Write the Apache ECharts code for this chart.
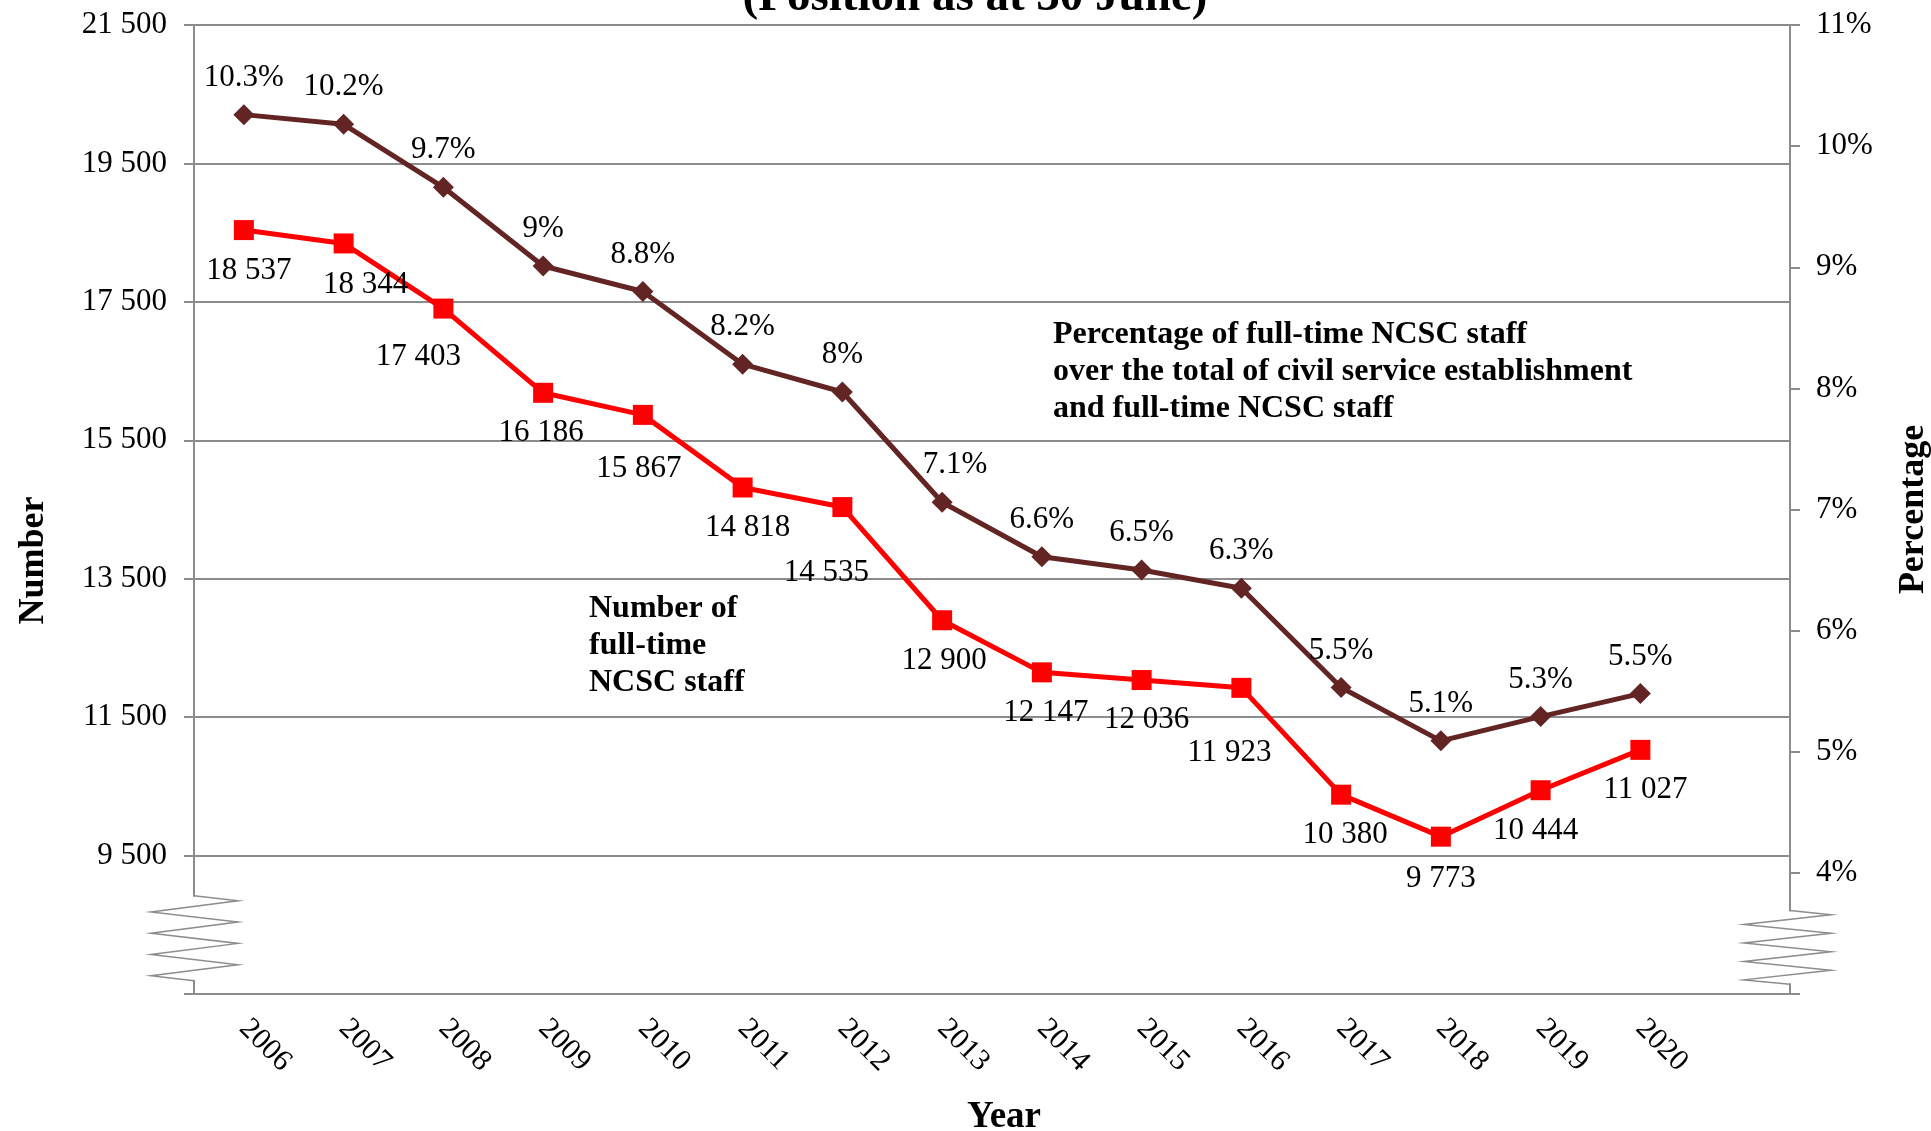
<!DOCTYPE html>
<html lang="en">
  <head>
    <meta charset="UTF-8" />
    <title>Full-time NCSC staff</title>
    <style>
      html, body { margin: 0; padding: 0; background: #fff; }
    </style>
  </head>
  <body>
    <div id="main" style="width: 1931px; height: 1131px"></div>
    <script src="https://cdn.jsdelivr.net/npm/echarts@6/dist/echarts.min.js"></script>
    <script>
      // data
      var years = ["2006", "2007", "2008", "2009", "2010", "2011", "2012", "2013",
        "2014", "2015", "2016", "2017", "2018", "2019", "2020", ""];
      var staffNumber = [18537, 18344, 17403, 16186, 15867, 14818, 14535, 12900,
        12147, 12036, 11923, 10380, 9773, 10444, 11027];
      var staffShare = [10.26, 10.18, 9.66, 9.01, 8.8, 8.2, 7.97, 7.06,
        6.61, 6.5, 6.35, 5.53, 5.09, 5.29, 5.48];
      var numberAxis = { min: 7500, max: 21500, step: 2000 };
      var shareAxis = { min: 3, max: 11, step: 1 };

      var FONT = "Liberation Serif";
      var GRID = "#8c8c8c";
      var GL = 194, GR = 141, GT = 25, GB = 137;

      function spaced(v) {
        return String(v).replace(/\B(?=(\d{3})+(?!\d))/g, " ");
      }
      function pct(v) {
        var s = v.toFixed(1);
        if (s.slice(-2) === ".0") s = s.slice(0, -2);
        return s + "%";
      }

      // hand placed label nudges (like the original)
      var numNudge = { 0: [5, 0], 1: [22, 1], 2: [-25, 8], 3: [-2, 0], 4: [-4, 13],
        5: [5, 0], 6: [-16, 25], 7: [2, 0], 8: [4, 0], 9: [5, -1], 10: [-12, 24],
        11: [4, 0], 12: [0, 2], 13: [-5, 0], 14: [5, -1] };

      var myChart = echarts.init(document.getElementById("main"));

      var labelStyle = { fontFamily: FONT, fontSize: 31, color: "#000" };

      var option = {
        animation: false,
        textStyle: { fontFamily: FONT },
        grid: { left: GL, right: GR, top: GT, bottom: GB, outerBoundsMode: "none", containLabel: false },
        xAxis: {
          type: "category",
          data: years,
          boundaryGap: true,
          name: "Year",
          nameLocation: "middle",
          nameGap: 105,
          nameTextStyle: { fontFamily: FONT, fontSize: 37, fontWeight: "bold", color: "#000", padding: [0, 0, 0, 24] },
          axisLine: { lineStyle: { color: GRID, width: 2 } },
          axisTick: { length: 9, lineStyle: { color: GRID, width: 2 } },
          axisLabel: { rotate: -45, margin: 30, interval: 0, fontFamily: FONT, fontSize: 30, color: "#000" },
          splitLine: { show: false },
        },
        yAxis: [
          {
            type: "value",
            min: numberAxis.min,
            max: numberAxis.max,
            interval: numberAxis.step,
            name: "Number",
            nameLocation: "middle",
            nameRotate: 90,
            nameGap: 142,
            nameTextStyle: { fontFamily: FONT, fontSize: 36, fontWeight: "bold", color: "#000", padding: [0, 102, 0, 0] },
            axisLine: { show: true, lineStyle: { color: GRID, width: 2 } },
            axisTick: { show: true, length: 10, lineStyle: { color: GRID, width: 2 } },
            axisLabel: {
              margin: 27, fontFamily: FONT, fontSize: 31, color: "#000",
              formatter: function (v) { return v === numberAxis.min ? "" : spaced(v); },
            },
            splitLine: { show: true, lineStyle: { color: GRID, width: 2 } },
          },
          {
            type: "value",
            min: shareAxis.min,
            max: shareAxis.max,
            interval: shareAxis.step,
            name: "Percentage",
            nameLocation: "middle",
            nameRotate: 90,
            nameGap: 106,
            nameTextStyle: { fontFamily: FONT, fontSize: 36, fontWeight: "bold", color: "#000" },
            axisLine: { show: true, lineStyle: { color: GRID, width: 2 } },
            axisTick: { show: true, length: 10, lineStyle: { color: GRID, width: 2 } },
            axisLabel: {
              margin: 26, fontFamily: FONT, fontSize: 31, color: "#000",
              formatter: function (v) { return v === shareAxis.min ? "" : v + "%"; },
            },
            splitLine: { show: false },
          },
        ],
        series: [
          {
            name: "Number of full-time NCSC staff",
            type: "line",
            yAxisIndex: 0,
            symbol: "rect",
            symbolSize: 20,
            z: 3,
            lineStyle: { color: "#ff0000", width: 5 },
            itemStyle: { color: "#ff0000" },
            label: {
              show: true, position: "bottom", distance: 15,
              formatter: function (p) { return spaced(p.value); },
            },
            data: staffNumber.map(function (v, i) {
              return { value: v, label: Object.assign({ offset: numNudge[i] || [0, 0] }, labelStyle) };
            }),
          },
          {
            name: "Percentage of full-time NCSC staff",
            type: "line",
            yAxisIndex: 1,
            symbol: "diamond",
            symbolSize: 21,
            z: 4,
            lineStyle: { color: "#632523", width: 5 },
            itemStyle: { color: "#632523" },
            label: {
              show: true, position: "top", distance: 11,
              formatter: function (p) { return pct(p.value); },
            },
            data: staffShare.map(function (v, i) {
              return { value: v, label: Object.assign({ offset: i === 7 ? [13, 0] : [0, 0] }, labelStyle) };
            }),
          },
        ],
        graphic: [
          {
            type: "text", x: 975, y: 21, z: 50,
            style: { text: "(Position as at 30 June)", align: "center", verticalAlign: "bottom",
              font: "bold 47px 'Liberation Serif'", fill: "#000" },
          },
          {
            type: "text", x: 1053, y: 316, z: 50,
            style: { text: "Percentage of full-time NCSC staff\nover the total of civil service establishment\nand full-time NCSC staff",
              font: "bold 32px 'Liberation Serif'", lineHeight: 37, fill: "#000" },
          },
          {
            type: "text", x: 589, y: 590, z: 50,
            style: { text: "Number of\nfull-time\nNCSC staff",
              font: "bold 32px 'Liberation Serif'", lineHeight: 37, fill: "#000" },
          },
        ],
      };

      myChart.setOption(option);

      // axis break marks (zigzag) on both value axes
      function breakMark(axisX, yTop, yBot, right, left) {
        var f = [0, 0.06, 0.19, 0.31, 0.44, 0.56, 0.69, 0.81, 0.94, 1];
        var pts = f.map(function (t, i) {
          var dx = i === 0 || i === f.length - 1 ? 0 : (i % 2 ? right : -left);
          return [axisX + dx, yTop + t * (yBot - yTop)];
        });
        return [
          { type: "rect", z: 60, shape: { x: axisX - 3, y: yTop + 1, width: 6, height: yBot - yTop - 2 },
            style: { fill: "#fff" } },
          { type: "polyline", z: 61, shape: { points: pts },
            style: { stroke: GRID, lineWidth: 1.5, fill: null } },
        ];
      }
      var lx = GL, rx = 1931 - GR;
      var lTop = myChart.convertToPixel({ yAxisIndex: 0 }, 8920);
      var lBot = myChart.convertToPixel({ yAxisIndex: 0 }, 7690);
      var rTop = myChart.convertToPixel({ yAxisIndex: 1 }, 3.69);
      var rBot = myChart.convertToPixel({ yAxisIndex: 1 }, 3.08);
      myChart.setOption({
        graphic: option.graphic.concat(breakMark(lx, lTop, lBot, 44, 43), breakMark(rx, rTop, rBot, 41, 46)),
      });
    </script>
  </body>
</html>
